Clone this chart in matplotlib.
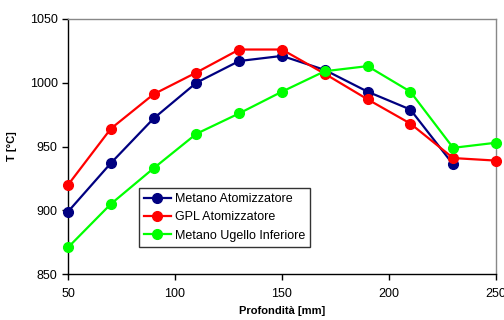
import matplotlib
matplotlib.use('Agg')
import matplotlib.pyplot as plt

# --- Data ---
depth = [50, 70, 90, 110, 130, 150, 170, 190, 210, 230, 250]
metano_atom = [899, 937, 972, 1000, 1017, 1021, 1010, 993, 979, 936]
gpl_atom = [920, 964, 991, 1008, 1026, 1026, 1007, 987, 968, 941, 939]
metano_ugello = [871, 905, 933, 960, 976, 993, 1009, 1013, 993, 949, 953]

series = [
    ('Metano Atomizzatore', metano_atom, '#000080'),
    ('GPL Atomizzatore', gpl_atom, '#FF0000'),
    ('Metano Ugello Inferiore', metano_ugello, '#00FF00'),
]

plt.rcParams['font.family'] = ['Liberation Sans', 'DejaVu Sans']

fig = plt.figure(figsize=(5.04, 3.2), dpi=100)
ax = fig.add_axes([0.135, 0.143, 0.849, 0.798])

for name, vals, col in series:
    ax.plot(depth[:len(vals)], vals, color=col, lw=1.6, marker='o',
            markersize=7, label=name, clip_on=False, zorder=3)

ax.set_xlim(50, 250)
ax.set_ylim(850, 1050)
ax.set_xticks([50, 100, 150, 200, 250])
ax.set_yticks([850, 900, 950, 1000, 1050])
ax.tick_params(labelsize=9, length=4, width=1, direction='out', color='black')
ax.tick_params(axis='x', pad=6)

for s in ['top', 'right']:
    ax.spines[s].set_color('#888888')
    ax.spines[s].set_linewidth(1)
for s in ['left', 'bottom']:
    ax.spines[s].set_color('black')
    ax.spines[s].set_linewidth(1)

ax.set_xlabel('Profondità [mm]', fontsize=8, fontweight='bold', labelpad=4)
ax.set_ylabel('T [°C]', fontsize=8, fontweight='bold', labelpad=9)

leg = ax.legend(loc='upper left', bbox_to_anchor=(0.165, 0.337), fontsize=9,
                frameon=True, fancybox=False, edgecolor='black',
                borderpad=0.4, labelspacing=0.5, handlelength=2.2,
                handletextpad=0.3, borderaxespad=0)
leg.get_frame().set_linewidth(1)

fig.savefig('out.png', dpi=100)
